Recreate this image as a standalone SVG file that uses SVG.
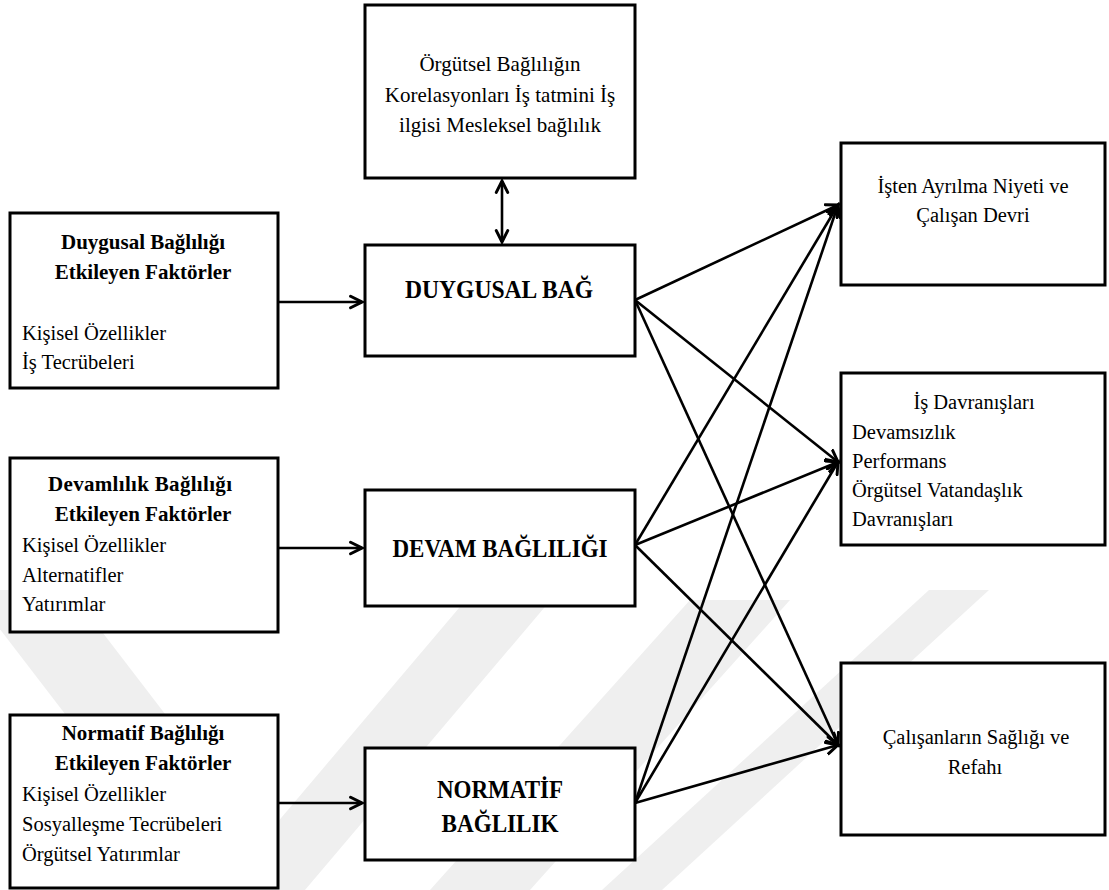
<svg xmlns="http://www.w3.org/2000/svg" width="1109" height="890" viewBox="0 0 1109 890">
<defs>
<style>
.box{fill:#fff;stroke:#000;stroke-width:3}
.t{font-family:"Liberation Serif","Times New Roman",serif;font-size:20.5px;fill:#000}
.k{font-size:21px}
.b{font-weight:bold;font-size:21px}
.h{font-weight:bold;font-size:25px}
.m{text-anchor:middle}
.c{stroke:#000;stroke-width:2.6;fill:none}
.wm{fill:#efefef;stroke:none}
</style>
<marker id="ah" markerUnits="userSpaceOnUse" markerWidth="16" markerHeight="16" refX="11" refY="6" orient="auto-start-reverse" viewBox="0 0 14 12">
<path d="M1,1 L11,6 L1,11" fill="none" stroke="#000" stroke-width="2.6" stroke-linecap="round" stroke-linejoin="miter"/>
</marker>
</defs>
<rect width="1109" height="890" fill="#fff"/>

<g id="watermark">
<polygon class="wm" points="-30,590 70,590 300,890 200,890"/>
<polygon class="wm" points="470,595 555,595 305,890 220,890"/>
<polygon class="wm" points="690,600 790,600 530,890 430,890"/>
<polygon class="wm" points="929,590 989,590 662,890 602,890"/>
</g>

<g id="connectors">
<line class="c" x1="502" y1="181" x2="502" y2="242" marker-start="url(#ah)" marker-end="url(#ah)"/>
<line class="c" x1="278" y1="302" x2="362" y2="302" marker-end="url(#ah)"/>
<line class="c" x1="278" y1="548" x2="362" y2="548" marker-end="url(#ah)"/>
<line class="c" x1="278" y1="803" x2="362" y2="803" marker-end="url(#ah)"/>
<line class="c" x1="635" y1="300" x2="838" y2="205" marker-end="url(#ah)"/>
<line class="c" x1="635" y1="300" x2="838" y2="462" marker-end="url(#ah)"/>
<line class="c" x1="635" y1="300" x2="838" y2="745" marker-end="url(#ah)"/>
<line class="c" x1="635" y1="545" x2="838" y2="205" marker-end="url(#ah)"/>
<line class="c" x1="635" y1="545" x2="838" y2="462" marker-end="url(#ah)"/>
<line class="c" x1="635" y1="545" x2="838" y2="745" marker-end="url(#ah)"/>
<line class="c" x1="635" y1="803" x2="838" y2="205" marker-end="url(#ah)"/>
<line class="c" x1="635" y1="803" x2="838" y2="462" marker-end="url(#ah)"/>
<line class="c" x1="635" y1="803" x2="838" y2="745" marker-end="url(#ah)"/>
</g>

<g id="korelasyonlar">
<rect class="box" x="365" y="5" width="270" height="173"/>
<text class="t k m" x="500" y="71">Örgütsel Bağlılığın</text>
<text class="t k m" x="500" y="102">Korelasyonları İş tatmini İş</text>
<text class="t k m" x="500" y="132">ilgisi Mesleksel bağlılık</text>
</g>

<g id="duygusal-bag">
<rect class="box" x="365" y="245" width="270" height="111"/>
<text class="t h m" x="499" y="298" textLength="188" lengthAdjust="spacingAndGlyphs">DUYGUSAL BAĞ</text>
</g>

<g id="devam-bagliligi">
<rect class="box" x="365" y="490" width="270" height="116"/>
<text class="t h m" x="500" y="557" textLength="215" lengthAdjust="spacingAndGlyphs">DEVAM BAĞLILIĞI</text>
</g>

<g id="normatif-baglilik">
<rect class="box" x="365" y="748" width="270" height="112"/>
<text class="t h m" x="500" y="798" textLength="126" lengthAdjust="spacingAndGlyphs">NORMATİF</text>
<text class="t h m" x="500" y="832" textLength="117" lengthAdjust="spacingAndGlyphs">BAĞLILIK</text>
</g>

<g id="duygusal-faktorler">
<rect class="box" x="10" y="213" width="268" height="175"/>
<text class="t b m" x="143" y="249">Duygusal Bağlılığı</text>
<text class="t b m" x="143" y="279">Etkileyen Faktörler</text>
<text class="t" x="22" y="340">Kişisel Özellikler</text>
<text class="t" x="22" y="369">İş Tecrübeleri</text>
</g>

<g id="devamlilik-faktorler">
<rect class="box" x="10" y="458" width="268" height="174"/>
<text class="t b m" x="140" y="491" textLength="184" lengthAdjust="spacing">Devamlılık Bağlılığı</text>
<text class="t b m" x="143" y="521">Etkileyen Faktörler</text>
<text class="t" x="22" y="552">Kişisel Özellikler</text>
<text class="t" x="22" y="582">Alternatifler</text>
<text class="t" x="22" y="611">Yatırımlar</text>
</g>

<g id="normatif-faktorler">
<rect class="box" x="10" y="715" width="268" height="173"/>
<text class="t b m" x="143" y="740">Normatif Bağlılığı</text>
<text class="t b m" x="143" y="770">Etkileyen Faktörler</text>
<text class="t" x="22" y="801">Kişisel Özellikler</text>
<text class="t" x="22" y="831">Sosyalleşme Tecrübeleri</text>
<text class="t" x="22" y="861">Örgütsel Yatırımlar</text>
</g>

<g id="isten-ayrilma">
<rect class="box" x="841" y="143" width="264" height="142"/>
<text class="t m" x="973" y="193">İşten Ayrılma Niyeti ve</text>
<text class="t m" x="973" y="222">Çalışan Devri</text>
</g>

<g id="is-davranislari">
<rect class="box" x="841" y="373" width="264" height="172"/>
<text class="t m" x="974" y="409">İş Davranışları</text>
<text class="t" x="852" y="439">Devamsızlık</text>
<text class="t" x="852" y="468">Performans</text>
<text class="t" x="852" y="497">Örgütsel Vatandaşlık</text>
<text class="t" x="852" y="526">Davranışları</text>
</g>

<g id="saglik-refah">
<rect class="box" x="841" y="663" width="264" height="172"/>
<text class="t m" x="976" y="744">Çalışanların Sağlığı ve</text>
<text class="t m" x="975" y="774">Refahı</text>
</g>
</svg>
